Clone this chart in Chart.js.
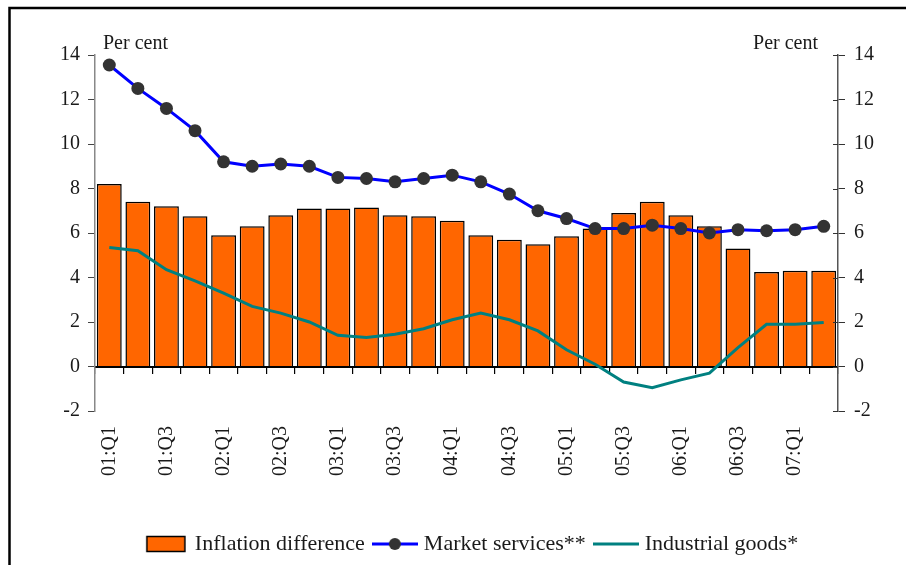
<!DOCTYPE html>
<html>
<head>
<meta charset="utf-8">
<script src="https://cdn.jsdelivr.net/npm/chart.js@4.4.0/dist/chart.umd.min.js"></script>
<style>
    html, body { margin: 0; padding: 0; background: #fff; }
    canvas { display: block; }
</style>
</head>
<body>
<canvas id="mixChart" width="906" height="565"></canvas>
<script>
// quarter labels, 01:Q1 .. 07:Q2
const quarters = ['01:Q1', '01:Q2', '01:Q3', '01:Q4', '02:Q1', '02:Q2', '02:Q3', '02:Q4',
    '03:Q1', '03:Q2', '03:Q3', '03:Q4', '04:Q1', '04:Q2', '04:Q3', '04:Q4',
    '05:Q1', '05:Q2', '05:Q3', '05:Q4', '06:Q1', '06:Q2', '06:Q3', '06:Q4', '07:Q1', '07:Q2'];

// values, per cent
const inflationDifference = [8.2, 7.4, 7.2, 6.75, 5.9, 6.3, 6.8, 7.1, 7.1, 7.15, 6.8, 6.75, 6.55,
    5.9, 5.7, 5.5, 5.85, 6.2, 6.9, 7.4, 6.8, 6.3, 5.3, 4.25, 4.3, 4.3];
const marketServices = [13.55, 12.5, 11.6, 10.6, 9.2, 9.0, 9.1, 9.0, 8.5, 8.45, 8.3, 8.45, 8.6,
    8.3, 7.75, 7.0, 6.65, 6.2, 6.2, 6.35, 6.2, 6.0, 6.15, 6.1, 6.15, 6.3];
const industrialGoods = [5.35, 5.2, 4.35, 3.85, 3.3, 2.7, 2.4, 2.0, 1.4, 1.3, 1.45, 1.7, 2.1,
    2.4, 2.1, 1.6, 0.75, 0.1, -0.7, -0.95, -0.6, -0.3, 0.85, 1.9, 1.9, 1.98];

const yTicksMin = -2;
const yTicksMax = 14;
const yTicksStep = 2;

const font = { family: '"Liberation Serif", "DejaVu Serif", serif', size: 20 };
const textColor = '#1a1a1a';

// small canvases used as legend symbols
function makeIcon(draw) {
    let c = document.createElement('canvas');
    c.width = 46;
    c.height = 18;
    draw(c.getContext('2d'));
    return c;
}
const legendIcons = [
    makeIcon(ctx => {
        ctx.fillStyle = '#FF6600';
        ctx.fillRect(4, 1.5, 38, 15);
        ctx.strokeStyle = '#000';
        ctx.lineWidth = 1.5;
        ctx.strokeRect(4, 1.5, 38, 15);
    }),
    makeIcon(ctx => {
        ctx.strokeStyle = '#0000FF';
        ctx.lineWidth = 3;
        ctx.beginPath(); ctx.moveTo(0, 9); ctx.lineTo(46, 9); ctx.stroke();
        ctx.fillStyle = '#333';
        ctx.beginPath(); ctx.arc(23, 9, 6, 0, Math.PI * 2); ctx.fill();
    }),
    makeIcon(ctx => {
        ctx.strokeStyle = '#008080';
        ctx.lineWidth = 3;
        ctx.beginPath(); ctx.moveTo(0, 9); ctx.lineTo(46, 9); ctx.stroke();
    })
];

// frame lines on the left and top of the picture
const framePlugin = {
    id: 'frame',
    beforeDraw(chart) {
        let ctx = chart.ctx;
        ctx.save();
        ctx.fillStyle = '#fff';
        ctx.fillRect(0, 0, chart.width, chart.height);
        ctx.strokeStyle = '#000';
        ctx.lineWidth = 2.5;
        ctx.beginPath();
        ctx.moveTo(9.5, chart.height);
        ctx.lineTo(9.5, 8);
        ctx.lineTo(chart.width, 8);
        ctx.stroke();
        ctx.restore();
    }
};

// "Per cent" captions and the inner half of the right axis ticks
const captionPlugin = {
    id: 'caption',
    afterDraw(chart) {
        let ctx = chart.ctx;
        let area = chart.chartArea;
        ctx.save();
        ctx.font = '20px ' + font.family;
        ctx.fillStyle = textColor;
        ctx.textBaseline = 'alphabetic';
        ctx.textAlign = 'left';
        ctx.fillText('Per cent', area.left + 8, area.top - 6);
        ctx.textAlign = 'right';
        ctx.fillText('Per cent', area.right - 20, area.top - 6);

        let y1 = chart.scales.y1;
        ctx.strokeStyle = '#333';
        ctx.lineWidth = 1;
        for (let t of y1.ticks) {
            let py = Math.round(y1.getPixelForValue(t.value)) + 0.5;
            ctx.beginPath();
            ctx.moveTo(area.right - 5, py);
            ctx.lineTo(area.right, py);
            ctx.stroke();
        }
        ctx.restore();
    }
};

let ctx = document.getElementById('mixChart').getContext('2d');
let chart = new Chart(ctx, {
    type: 'bar',
    data: {
        labels: quarters,
        datasets: [{
            type: 'bar',
            label: 'Inflation difference',
            data: inflationDifference,
            backgroundColor: '#FF6600',
            borderColor: '#000',
            borderWidth: 1.5,
            barPercentage: 0.87,
            categoryPercentage: 1,
            xAxisID: 'x',
            yAxisID: 'y',
            order: 3
        }, {
            type: 'line',
            label: 'Market services**',
            data: marketServices,
            borderColor: '#0000FF',
            borderWidth: 3,
            pointRadius: 6.5,
            pointBackgroundColor: '#333',
            pointBorderColor: '#333',
            pointBorderWidth: 0,
            tension: 0,
            xAxisID: 'x',
            yAxisID: 'y',
            order: 1
        }, {
            type: 'line',
            label: 'Industrial goods*',
            data: industrialGoods,
            borderColor: '#008080',
            borderWidth: 3,
            pointRadius: 0,
            tension: 0,
            xAxisID: 'x',
            yAxisID: 'y',
            order: 2
        }]
    },
    options: {
        responsive: false,
        animation: false,
        layout: { padding: { top: 55, left: 40, right: 0, bottom: 0 } },
        scales: {
            x: {
                type: 'category',
                position: 'bottom',
                offset: true,
                grid: { display: false, drawTicks: false },
                border: { display: false },
                ticks: {
                    autoSkip: false,
                    minRotation: 90,
                    maxRotation: 90,
                    padding: 15,
                    font: font,
                    color: textColor,
                    callback: function (val, i) {
                        return i % 2 === 0 ? this.getLabelForValue(val) : '';
                    }
                },
                afterFit(scale) { scale.height = 110; }
            },
            x0: {
                type: 'category',
                position: { y: 0 },
                offset: true,
                grid: { display: true, drawOnChartArea: false, drawTicks: true, tickLength: 6, color: '#000', lineWidth: 1.2, offset: true },
                border: { display: true, color: '#000', width: 2 },
                ticks: { display: false }
            },
            y: {
                position: 'left',
                min: yTicksMin,
                max: yTicksMax,
                ticks: { stepSize: yTicksStep, padding: 8, font: font, color: textColor },
                grid: { drawOnChartArea: false, drawTicks: true, tickLength: 7, color: '#444' },
                border: { color: '#888', width: 1.5 },
                afterFit(scale) { scale.width = 55; }
            },
            y1: {
                position: 'right',
                min: yTicksMin,
                max: yTicksMax,
                ticks: { stepSize: yTicksStep, padding: 9, font: font, color: textColor },
                grid: { drawOnChartArea: false, drawTicks: true, tickLength: 7, color: '#333' },
                border: { color: '#555', width: 1.5 },
                afterFit(scale) { scale.width = 68; }
            }
        },
        plugins: {
            tooltip: { enabled: false },
            legend: {
                position: 'bottom',
                labels: {
                    usePointStyle: true,
                    pointStyleWidth: 36,
                    padding: 12,
                    font: { family: font.family, size: 22 },
                    color: textColor,
                    generateLabels: function (chart) {
                        let items = Chart.defaults.plugins.legend.labels.generateLabels(chart);
                        items.forEach(item => { item.pointStyle = legendIcons[item.datasetIndex]; });
                        return items;
                    },
                    sort: (a, b) => a.datasetIndex - b.datasetIndex
                }
            }
        }
    },
    plugins: [framePlugin, captionPlugin]
});
</script>
</body>
</html>
